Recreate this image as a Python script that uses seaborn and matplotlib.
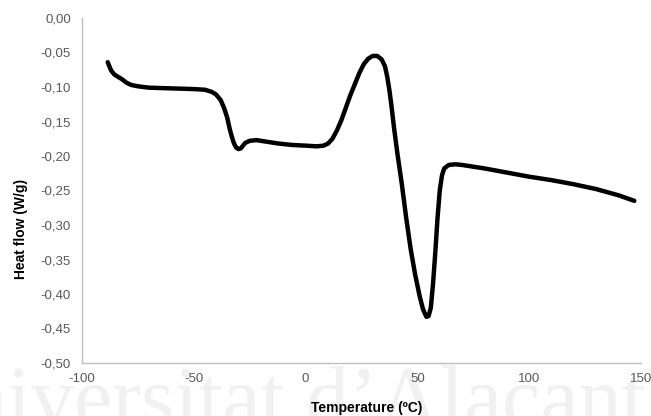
import matplotlib
matplotlib.use("Agg")
import matplotlib.pyplot as plt
from matplotlib.ticker import FuncFormatter
import seaborn as sns
import pandas as pd

# DSC thermogram: temperature (ºC) vs heat flow (W/g)
temperature = [-88.5, -88.0, -87.0, -85.5, -84.0, -82.0, -80.0, -78.0, -75.0, -70.0,
               -60.0, -50.0, -45.0, -42.0, -40.0, -38.0, -36.5, -35.0, -34.0, -33.0,
               -32.0, -31.0, -30.0, -29.0, -28.0, -27.0, -25.0, -22.0, -18.0, -12.0,
               -6.0, 0.0, 5.0, 8.0, 10.0, 12.0, 14.0, 16.0, 18.0, 20.0,
               22.0, 24.0, 26.0, 28.0, 30.0, 32.0, 34.0, 35.5, 36.5, 37.5,
               38.5, 39.5, 41.0, 43.0, 45.0, 47.0, 49.0, 51.0, 52.5, 54.0,
               55.0, 56.0, 57.0, 58.0, 59.0, 60.0, 61.0, 62.0, 64.0, 67.0,
               70.0, 80.0, 90.0, 100.0, 110.0, 120.0, 130.0, 140.0, 147.0]
heat_flow = [-0.064, -0.068, -0.076, -0.082, -0.085, -0.089, -0.094, -0.097, -0.099, -0.101,
             -0.102, -0.103, -0.104, -0.107, -0.111, -0.119, -0.130, -0.145, -0.160, -0.172,
             -0.182, -0.188, -0.190, -0.189, -0.185, -0.181, -0.178, -0.177, -0.179, -0.182,
             -0.184, -0.185, -0.186, -0.185, -0.182, -0.175, -0.163, -0.148, -0.130, -0.112,
             -0.096, -0.080, -0.067, -0.059, -0.055, -0.055, -0.060, -0.070, -0.085, -0.105,
             -0.130, -0.158, -0.195, -0.240, -0.290, -0.335, -0.372, -0.403, -0.422, -0.433,
             -0.432, -0.420, -0.385, -0.340, -0.290, -0.250, -0.228, -0.218, -0.213, -0.212,
             -0.213, -0.218, -0.224, -0.230, -0.235, -0.241, -0.248, -0.257, -0.265]

x_ticks = [-100, -50, 0, 50, 100, 150]
y_ticks = [0.00, -0.05, -0.10, -0.15, -0.20, -0.25, -0.30, -0.35, -0.40, -0.45, -0.50]

df = pd.DataFrame({"Temperature": temperature, "Heat flow": heat_flow})

sns.set_theme(style="white")
plt.rcParams["font.family"] = ["Liberation Sans", "DejaVu Sans"]

fig = plt.figure(figsize=(6.51, 4.16), dpi=100)
ax = fig.add_axes([82 / 651, 53 / 416, 559 / 651, 345 / 416])

# faint institutional watermark, drawn beneath the axes and their labels
fig.text(0.992, -0.025, "Universitat d\u2019Alacant", ha="right", va="baseline",
         fontsize=62, color="#f1f1f1", family=["Liberation Serif", "DejaVu Serif"],
         zorder=-5)

sns.lineplot(data=df, x="Temperature", y="Heat flow", ax=ax, color="black",
             linewidth=3.2, sort=False, estimator=None)
ax.patch.set_alpha(0)

ax.set_xlim(-100, 150)
ax.set_ylim(-0.50, 0.00)
ax.set_xticks(x_ticks)
ax.set_yticks(y_ticks)
ax.yaxis.set_major_formatter(
    FuncFormatter(lambda v, p: f"{v:.2f}".replace(".", ",").replace("-0,00", "0,00")))
ax.xaxis.set_major_formatter(FuncFormatter(lambda v, p: f"{v:.0f}"))

for side in ["top", "right"]:
    ax.spines[side].set_visible(False)
for side in ["left", "bottom"]:
    ax.spines[side].set_color("#bfbfbf")
    ax.spines[side].set_linewidth(1.0)

ax.tick_params(axis="both", which="major", direction="out", length=4, width=1,
               color="#bfbfbf", labelcolor="#595959", labelsize=9.5)
ax.tick_params(axis="x", pad=3)
ax.tick_params(axis="y", pad=4)

ax.set_xlabel("Temperature (ºC)", fontsize=10, fontweight="bold", color="black")
ax.set_ylabel("Heat flow (W/g)", fontsize=10, fontweight="bold", color="black")
ax.xaxis.label.set_va("center")
ax.xaxis.set_label_coords(0.51, -0.13)
ax.yaxis.set_label_coords(-0.097, 0.39)

fig.savefig("out.png", dpi=100)
